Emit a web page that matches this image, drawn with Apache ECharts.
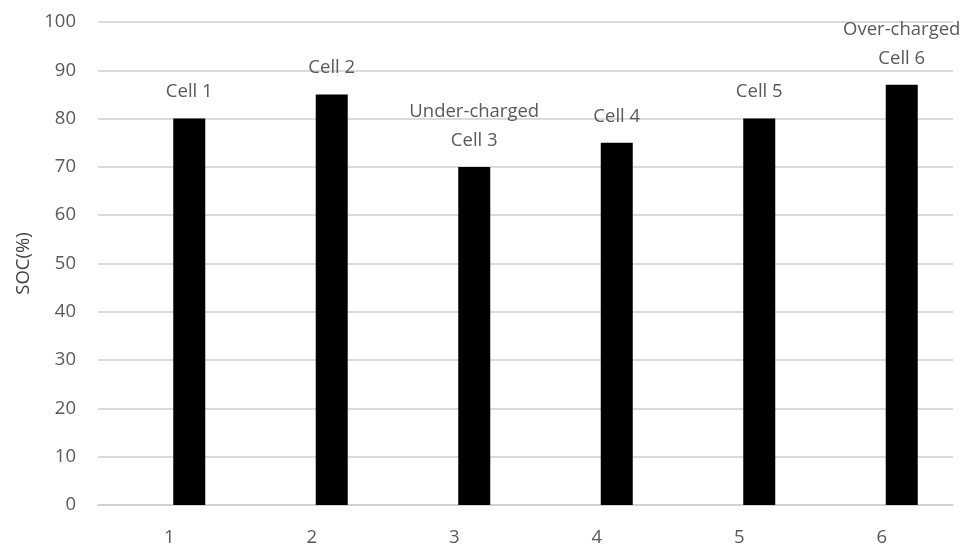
<!DOCTYPE html>
<html>
<head>
<meta charset="utf-8">
<title>SOC per cell</title>
<script src="https://cdn.jsdelivr.net/npm/echarts@6/dist/echarts.min.js"></script>
<style>
  html, body { margin: 0; padding: 0; background: #fff; }
  #chart { width: 971px; height: 548px; }
</style>
</head>
<body>
<div id="chart"></div>
<script>
// Cell indices on the x axis
const categories = ['1', '2', '3', '4', '5', '6'];
// State of charge of each cell, in percent
const socValues = [80, 85, 70, 75, 80, 87];
// Text shown above each bar
const cellLabels = ['Cell 1', 'Cell 2', 'Under-charged\nCell 3', 'Cell 4', 'Cell 5', 'Over-charged\nCell 6'];
// Empty companion series: keeps each bar shifted right within its category slot
const emptySeries = [null, null, null, null, null, null];
// Y axis range
const yMin = 0, yMax = 100, yStep = 10;

const FONT = '"Open Sans", "Noto Sans", sans-serif';
const GREY = '#595959';

const chart = echarts.init(document.getElementById('chart'), null, { renderer: 'canvas' });

chart.setOption({
  animation: false,
  backgroundColor: '#ffffff',
  grid: { left: 98, right: 18, top: 22, bottom: 43, containLabel: false },
  xAxis: {
    type: 'category',
    data: categories,
    axisTick: { show: false },
    axisLine: { show: true, lineStyle: { color: '#cfcfcf', width: 1.5 } },
    axisLabel: { color: GREY, fontFamily: FONT, fontSize: 18.5, margin: 23 },
    splitLine: { show: false }
  },
  yAxis: {
    type: 'value',
    min: yMin,
    max: yMax,
    interval: yStep,
    name: 'SOC(%)',
    nameLocation: 'middle',
    nameGap: 58,
    nameTextStyle: { color: '#404040', fontFamily: FONT, fontSize: 18.5 },
    axisLine: { show: false },
    axisTick: { show: false },
    axisLabel: { color: GREY, fontFamily: FONT, fontSize: 18.5, margin: 22 },
    splitLine: { show: true, lineStyle: { color: '#cfcfcf', width: 1.5 } }
  },
  series: [
    {
      type: 'bar',
      data: emptySeries,
      barWidth: 32,
      barGap: '25%',
      silent: true
    },
    {
      type: 'bar',
      data: socValues,
      barWidth: 32,
      barGap: '25%',
      itemStyle: { color: '#000000' },
      label: {
        show: true,
        position: 'top',
        distance: 12,
        color: GREY,
        fontFamily: FONT,
        fontSize: 18.5,
        lineHeight: 29,
        formatter: (p) => cellLabels[p.dataIndex]
      }
    }
  ]
});
</script>
</body>
</html>
